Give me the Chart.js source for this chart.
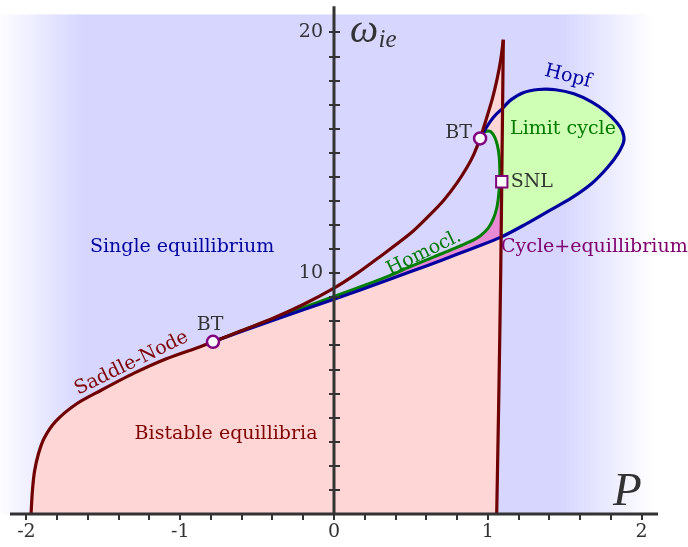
<!DOCTYPE html>
<html>
<head>
<meta charset="utf-8">
<script src="https://cdn.jsdelivr.net/npm/chart.js@4.4.0/dist/chart.umd.min.js"></script>
<style>
  html, body { margin: 0; padding: 0; background: #fff; }
  #wrap { width: 688px; height: 547px; position: relative; }
</style>
</head>
<body>
<div id="wrap"><canvas id="bif"></canvas></div>
<script>
// axis ranges and tick labels
var xMin = -2.172, xMax = 2.302;
var yMin = 0, yMax = 20.75;
var xTickLabels = [-2, -1, 0, 1, 2];
var yTickLabels = [10, 20];
var xAxisLine = [[-2.107, 0], [2.107, 0]];
var yAxisLine = [[0, 0], [0, 21.09]];

// saddle-node curve, left branch from the bottom up to the cusp
var snLeft = [[-1.970, 0], [-1.962, 0.9], [-1.948, 1.75], [-1.922, 2.5], [-1.885, 3.15],
  [-1.81, 3.85], [-1.68, 4.55], [-1.52, 5.12], [-1.30, 5.85], [-1.09, 6.45], [-0.87, 6.95],
  [-0.787, 7.15], [-0.6, 7.62], [-0.4, 8.12], [-0.2, 8.7], [0, 9.38], [0.14, 9.95],
  [0.28, 10.6], [0.5, 11.67], [0.62, 12.4], [0.715, 13.04], [0.8, 13.75], [0.865, 14.4],
  [0.91, 14.95], [0.95, 15.6], [0.99, 16.4], [1.03, 17.25], [1.06, 18.05], [1.085, 18.9], [1.101, 19.7]];
// saddle-node curve, right branch from the cusp down
var snRight = [[1.101, 19.7], [1.093, 15], [1.084, 10], [1.072, 5], [1.058, 0]];
// Hopf curve from BT (left) around the loop to BT (top)
var hopf = [[-0.787, 7.15], [-0.4, 8.04], [0, 8.92], [0.35, 9.72], [0.5, 10.07], [0.7, 10.54],
  [0.9, 11.03], [1.086, 11.5], [1.25, 12.05], [1.4, 12.6], [1.55, 13.15], [1.68, 13.75],
  [1.78, 14.4], [1.85, 15.0], [1.885, 15.5], [1.875, 15.9], [1.84, 16.25], [1.77, 16.7],
  [1.68, 17.1], [1.56, 17.45], [1.44, 17.62], [1.33, 17.63], [1.23, 17.5], [1.15, 17.2],
  [1.096, 16.85], [1.04, 16.5], [0.99, 16.05], [0.95, 15.6]];
// homoclinic curve from BT (left) to BT (top)
var homocl = [[-0.787, 7.15], [-0.4, 8.1], [0, 9.04], [0.2, 9.5], [0.35, 9.87], [0.5, 10.28],
  [0.65, 10.68], [0.78, 11.02], [0.88, 11.3], [0.95, 11.55], [1.0, 11.85], [1.035, 12.25],
  [1.058, 12.7], [1.07, 13.2], [1.077, 13.8], [1.078, 14.3], [1.074, 14.85], [1.063, 15.3],
  [1.045, 15.65], [1.02, 15.88], [0.99, 15.9], [0.965, 15.8], [0.95, 15.6]];
var btPoints = [[-0.787, 7.15], [0.95, 15.6]];
var snlPoint = [[1.091, 13.8]];

var annotations = [
  {text: 'Single equillibrium', x: -0.988, y: 11.09, color: '#0000a0'},
  {text: 'Bistable equillibria', x: -0.702, y: 3.31, color: '#800000'},
  {text: 'Saddle-Node', x: -1.317, y: 6.26, color: '#800000', rot: -26},
  {text: 'BT', x: -0.806, y: 7.85, color: '#333'},
  {text: 'BT', x: 0.897, y: 15.83, color: '#333', align: 'right'},
  {text: 'Homocl.', x: 0.585, y: 10.84, color: '#007a00', rot: -26},
  {text: 'Hopf', x: 1.521, y: 18.17, color: '#0000a0', rot: 14},
  {text: 'Limit cycle', x: 1.489, y: 15.99, color: '#007a00'},
  {text: 'SNL', x: 1.149, y: 13.8, color: '#333', align: 'left'},
  {text: 'Cycle+equillibrium', x: 1.086, y: 11.07, color: '#800070', align: 'left'},
  {text: '\u03c9', x: 0.104, y: 19.59, color: '#333', align: 'left', base: 'alphabetic', font: 'italic 40px "Liberation Serif"'},
  {text: 'ie', x: 0.29, y: 19.4, color: '#333', align: 'left', base: 'alphabetic', font: 'italic 25px "Liberation Serif"'},
  {text: 'P', x: 1.814, y: 0.37, color: '#333', align: 'left', base: 'alphabetic', font: 'italic 47px "Liberation Serif"'}
];

function pts(a) {
  return a.map(function(p) { return {x: p[0], y: p[1]}; });
}

// regions built from the curves
var iLow = hopf.findIndex(function(p) { return p[0] >= 1.08; });
var iHigh = hopf.length - 1 - hopf.slice().reverse().findIndex(function(p) { return p[0] >= 1.09; });
var pinkRegion = snLeft.concat(snRight);
var wedgeRegion = snLeft.filter(function(p) { return p[0] >= btPoints[0][0] && p[0] <= btPoints[1][0]; })
  .concat(homocl.slice().reverse());
var magentaRegion = snlPoint.concat(homocl.filter(function(p, i) { return p[1] < snlPoint[0][1] && i < 15; }).reverse())
  .concat(hopf.slice(0, iLow + 1));
var cycleRegion = hopf.slice(iLow, iHigh + 1);

function region(data, color, order) {
  return {data: pts(data), showLine: true, fill: 'shape', backgroundColor: color,
    borderColor: 'rgba(0,0,0,0)', borderWidth: 0, pointRadius: 0, tension: 0.3, order: order};
}
function curve(data, color, width, order) {
  return {data: pts(data), showLine: true, fill: false, borderColor: color, borderWidth: width,
    pointRadius: 0, tension: 0.3, order: order, clip: false};
}

var backdrop = {
  id: 'backdrop',
  beforeDraw: function(chart) {
    var a = chart.chartArea, ctx = chart.ctx;
    var g = ctx.createLinearGradient(a.left, 0, a.right, 0);
    g.addColorStop(0, 'rgba(214,214,255,0.05)');
    g.addColorStop(0.12, 'rgba(214,214,255,1)');
    g.addColorStop(0.815, 'rgba(214,214,255,1)');
    g.addColorStop(0.95, 'rgba(214,214,255,0)');
    g.addColorStop(1, 'rgba(214,214,255,0)');
    ctx.save();
    ctx.fillStyle = g;
    ctx.fillRect(a.left, a.top, a.right - a.left, a.bottom - a.top);
    ctx.restore();
  }
};

var labelsPlugin = {
  id: 'labels',
  afterDraw: function(chart) {
    var ctx = chart.ctx, xs = chart.scales.x, ys = chart.scales.y;
    annotations.forEach(function(a) {
      ctx.save();
      ctx.translate(xs.getPixelForValue(a.x), ys.getPixelForValue(a.y));
      ctx.rotate((a.rot || 0) * Math.PI / 180);
      ctx.font = a.font || '19px "DejaVu Serif"';
      ctx.fillStyle = a.color;
      ctx.textAlign = a.align || 'center';
      ctx.textBaseline = a.base || 'middle';
      ctx.fillText(a.text, 0, 0);
      ctx.restore();
    });
  }
};

var tickFont = {family: 'DejaVu Serif', size: 19};

new Chart(document.getElementById('bif'), {
  type: 'scatter',
  data: {
    datasets: [
      region(pinkRegion, '#ffd6d6', 50),
      region(wedgeRegion, 'rgb(214,214,255)', 49),
      region(magentaRegion, '#e88ad4', 48),
      region(cycleRegion, '#cfffb5', 47),
      curve(homocl, '#008000', 3, 6),
      curve(hopf, '#0000a0', 3.2, 5),
      curve(snLeft, '#700000', 3.2, 4),
      curve(snRight, '#700000', 3.2, 4),
      {data: pts(xAxisLine), showLine: true, borderColor: '#333', borderWidth: 3, pointRadius: 0, clip: false, order: 2},
      {data: pts(yAxisLine), showLine: true, borderColor: '#333', borderWidth: 3, pointRadius: 0, clip: false, order: 2},
      {data: pts(btPoints), pointStyle: 'circle', pointRadius: 6, borderWidth: 2.5,
        backgroundColor: '#fff', borderColor: '#800080', clip: false, order: 0},
      {data: pts(snlPoint), pointStyle: 'rect', pointRadius: 8, borderWidth: 2,
        backgroundColor: '#fff', borderColor: '#800080', clip: false, order: 0}
    ]
  },
  options: {
    responsive: true,
    maintainAspectRatio: false,
    animation: false,
    events: [],
    layout: {autoPadding: false, padding: {top: 14, left: 0, right: 0, bottom: 0}},
    plugins: {legend: {display: false}, tooltip: {enabled: false}},
    scales: {
      x: {
        type: 'linear', min: xMin, max: xMax, position: 'bottom',
        afterBuildTicks: function(s) {
          s.ticks = s.ticks.filter(function(t) { return t.value >= -2.001 && t.value <= 2.001; });
        },
        afterFit: function(s) { s.height = 33; },
        border: {display: false},
        grid: {drawOnChartArea: false, tickLength: 6, color: '#333', lineWidth: 2, z: 1},
        ticks: {
          stepSize: 0.2, includeBounds: false, autoSkip: false, maxRotation: 0, minRotation: 0,
          padding: 1, color: '#333', font: tickFont, z: 1,
          callback: function(v) {
            var r = Math.round(v);
            return (Math.abs(v - r) < 1e-6 && xTickLabels.indexOf(r) >= 0) ? String(r) : '';
          }
        }
      },
      y: {
        type: 'linear', min: yMin, max: yMax, position: {x: 0.036},
        afterFit: function(s) { s.width = 0; },
        border: {display: false},
        grid: {drawOnChartArea: false, tickLength: 11, color: '#333', lineWidth: 2, z: 1},
        ticks: {stepSize: 1, includeBounds: false, autoSkip: false, display: false}
      },
      yLabels: {
        type: 'linear', min: yMin, max: yMax, position: {x: -0.0715},
        afterFit: function(s) { s.width = 0; },
        border: {display: false},
        grid: {display: false},
        ticks: {
          stepSize: 1, includeBounds: false, autoSkip: false,
          color: '#333', font: tickFont, z: 1,
          callback: function(v) { return yTickLabels.indexOf(v) >= 0 ? String(v) : ''; }
        }
      }
    }
  },
  plugins: [backdrop, labelsPlugin]
});
</script>
</body>
</html>
